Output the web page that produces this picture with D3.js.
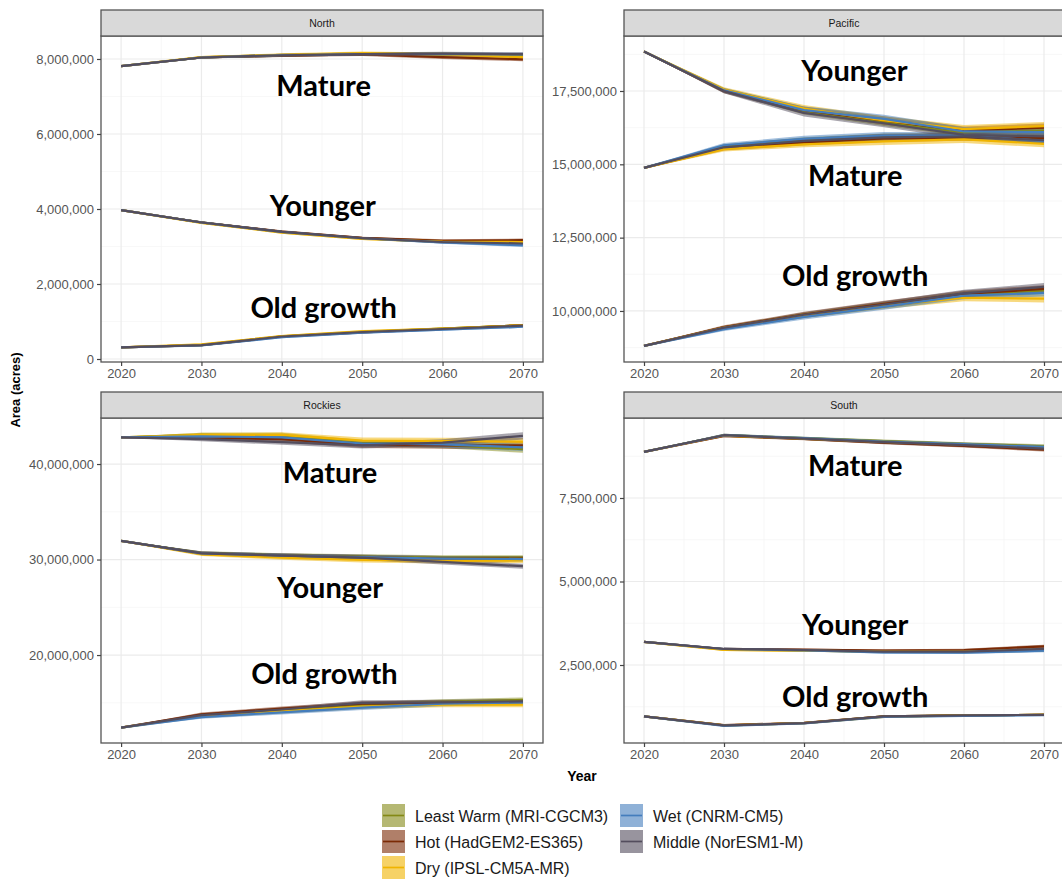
<!DOCTYPE html>
<html><head><meta charset="utf-8">
<script src="https://cdn.jsdelivr.net/npm/d3@7"></script>
<style>body{margin:0;background:#fff}svg{display:block}</style>
</head><body>
<svg id="chart" width="1062" height="879"></svg>
<script>
// ---------------- DATA (values in millions of acres) ----------------
const years = [2020, 2030, 2040, 2050, 2060, 2070];
const models = ["Least Warm (MRI-CGCM3)", "Hot (HadGEM2-ES365)", "Dry (IPSL-CM5A-MR)", "Wet (CNRM-CM5)", "Middle (NorESM1-M)"];
const modelColors = ["#848916", "#7b2a05", "#f0b400", "#447dbc", "#534d5d"];
const regions = ["North", "Pacific", "Rockies", "South"];
const classes = ["Mature", "Younger", "Old growth"];

// rows: Least Warm, Hot, Dry, Wet, Middle
const northMature = [
  [7.81, 8.04, 8.10, 8.13, 8.13, 8.10],
  [7.81, 8.04, 8.09, 8.12, 8.05, 7.99],
  [7.81, 8.05, 8.11, 8.16, 8.12, 8.05],
  [7.81, 8.04, 8.10, 8.13, 8.13, 8.12],
  [7.81, 8.04, 8.10, 8.13, 8.14, 8.13]];
const northYounger = [
  [3.97, 3.64, 3.39, 3.22, 3.13, 3.10],
  [3.97, 3.64, 3.40, 3.23, 3.15, 3.17],
  [3.97, 3.63, 3.37, 3.20, 3.13, 3.12],
  [3.97, 3.64, 3.39, 3.22, 3.11, 3.03],
  [3.97, 3.64, 3.39, 3.22, 3.12, 3.08]];
const northOld = [
  [0.31, 0.37, 0.60, 0.72, 0.81, 0.90],
  [0.31, 0.37, 0.60, 0.71, 0.80, 0.90],
  [0.31, 0.39, 0.61, 0.74, 0.81, 0.90],
  [0.31, 0.36, 0.58, 0.70, 0.78, 0.86],
  [0.31, 0.37, 0.60, 0.72, 0.80, 0.89]];
const northBand = [[0.01, 0.03, 0.04, 0.04, 0.05, 0.05], [0.01, 0.03, 0.03, 0.03, 0.04, 0.04], [0.01, 0.02, 0.03, 0.03, 0.03, 0.03]];

const pacificMature = [
  [14.88, 15.60, 15.82, 15.93, 15.95, 15.85],
  [14.88, 15.55, 15.75, 15.88, 15.92, 15.90],
  [14.88, 15.52, 15.68, 15.78, 15.85, 15.70],
  [14.88, 15.65, 15.87, 15.98, 15.98, 15.80],
  [14.88, 15.58, 15.80, 15.92, 15.95, 15.82]];
const pacificYounger = [
  [18.85, 17.52, 16.82, 16.45, 16.10, 16.15],
  [18.85, 17.50, 16.85, 16.50, 16.15, 16.25],
  [18.85, 17.55, 16.90, 16.50, 16.20, 16.30],
  [18.85, 17.52, 16.85, 16.55, 16.12, 16.10],
  [18.85, 17.50, 16.75, 16.40, 16.00, 15.95]];
const pacificOld = [
  [8.81, 9.42, 9.85, 10.20, 10.55, 10.70],
  [8.81, 9.45, 9.88, 10.24, 10.58, 10.75],
  [8.81, 9.43, 9.85, 10.18, 10.45, 10.42],
  [8.81, 9.38, 9.80, 10.15, 10.52, 10.62],
  [8.81, 9.43, 9.87, 10.22, 10.60, 10.82]];
const pacificBand = [[0.02, 0.08, 0.10, 0.12, 0.12, 0.12], [0.02, 0.08, 0.12, 0.14, 0.14, 0.14], [0.02, 0.06, 0.09, 0.11, 0.12, 0.13]];

const rockiesMature = [
  [42.80, 43.05, 43.00, 42.20, 42.00, 41.55],
  [42.80, 42.80, 42.60, 42.00, 41.95, 41.95],
  [42.80, 43.05, 43.05, 42.45, 42.40, 42.35],
  [42.80, 42.90, 42.80, 42.15, 42.05, 41.75],
  [42.80, 42.60, 42.30, 41.95, 42.25, 42.95]];
const rockiesYounger = [
  [31.95, 30.68, 30.45, 30.30, 30.20, 30.20],
  [31.95, 30.65, 30.40, 30.25, 30.10, 30.10],
  [31.95, 30.55, 30.20, 29.95, 29.85, 29.90],
  [31.95, 30.65, 30.42, 30.25, 30.10, 30.05],
  [31.95, 30.65, 30.40, 30.20, 29.75, 29.30]];
const rockiesOld = [
  [12.40, 13.65, 14.25, 14.80, 15.10, 15.30],
  [12.40, 13.80, 14.40, 14.90, 15.00, 15.10],
  [12.40, 13.60, 14.10, 14.60, 14.80, 14.80],
  [12.40, 13.50, 14.00, 14.50, 14.90, 15.05],
  [12.40, 13.70, 14.30, 15.00, 15.05, 15.15]];
const rockiesBand = [[0.05, 0.22, 0.28, 0.32, 0.34, 0.38], [0.05, 0.18, 0.22, 0.26, 0.26, 0.26], [0.05, 0.18, 0.22, 0.26, 0.26, 0.26]];

const southMature = [
  [8.88, 9.38, 9.29, 9.20, 9.12, 9.05],
  [8.88, 9.36, 9.27, 9.16, 9.06, 8.95],
  [8.88, 9.37, 9.28, 9.18, 9.10, 9.02],
  [8.88, 9.38, 9.29, 9.19, 9.11, 9.03],
  [8.88, 9.38, 9.28, 9.17, 9.08, 8.98]];
const southYounger = [
  [3.19, 2.97, 2.94, 2.90, 2.89, 2.95],
  [3.19, 2.98, 2.96, 2.93, 2.95, 3.06],
  [3.19, 2.95, 2.93, 2.90, 2.90, 2.96],
  [3.19, 2.98, 2.94, 2.88, 2.87, 2.93],
  [3.19, 2.98, 2.95, 2.90, 2.90, 2.98]];
const southOld = [
  [0.96, 0.69, 0.76, 0.96, 0.99, 1.01],
  [0.96, 0.70, 0.77, 0.96, 0.99, 1.01],
  [0.96, 0.69, 0.76, 0.95, 0.99, 1.01],
  [0.96, 0.68, 0.75, 0.95, 0.98, 1.00],
  [0.96, 0.69, 0.76, 0.96, 0.99, 1.01]];
const southBand = [[0.01, 0.04, 0.04, 0.05, 0.05, 0.06], [0.01, 0.03, 0.03, 0.04, 0.04, 0.05], [0.01, 0.02, 0.02, 0.03, 0.03, 0.03]];

// y tick labels (acres)
const northTicks = [0, 2000000, 4000000, 6000000, 8000000];
const pacificTicks = [10000000, 12500000, 15000000, 17500000];
const rockiesTicks = [20000000, 30000000, 40000000];
const southTicks = [2500000, 5000000, 7500000];
const xTicks = [2020, 2030, 2040, 2050, 2060, 2070];

// y axis limits (acres)
const northLimits = [-80000, 8613000];
const pacificLimits = [8260000, 19375000];
const rockiesLimits = [10790000, 44820000];
const southLimits = [165000, 9895000];

// class annotation anchor (year, millions of acres) in class order Mature, Younger, Old growth
const northLabelPos = [[2045.2, 7.33], [2045.1, 4.13], [2045.2, 1.41]];
const pacificLabelPos = [[2046.4, 14.66], [2046.3, 18.22], [2046.4, 11.23]];
const rockiesLabelPos = [[2046.0, 39.27], [2046.0, 27.17], [2045.3, 18.12]];
const southLabelPos = [[2046.4, 8.49], [2046.4, 3.73], [2046.4, 1.60]];

// ---------------- LAYOUT ----------------
const panelData = {
  North:   {series: [northMature, northYounger, northOld], band: northBand, ticks: northTicks, limits: northLimits, labels: northLabelPos},
  Pacific: {series: [pacificMature, pacificYounger, pacificOld], band: pacificBand, ticks: pacificTicks, limits: pacificLimits, labels: pacificLabelPos},
  Rockies: {series: [rockiesMature, rockiesYounger, rockiesOld], band: rockiesBand, ticks: rockiesTicks, limits: rockiesLimits, labels: rockiesLabelPos},
  South:   {series: [southMature, southYounger, southOld], band: southBand, ticks: southTicks, limits: southLimits, labels: southLabelPos}
};
const cols = [[101, 543], [624, 1064]];
const rows = [{strip: 10, top: 36, bottom: 362}, {strip: 392, top: 418, bottom: 743}];
const FONT = "'Liberation Sans', Arial, sans-serif";

const svg = d3.select("#chart");
svg.append("rect").attr("width", 1062).attr("height", 879).attr("fill", "#fff");

regions.forEach((reg, i) => {
  const c = cols[i % 2], r = rows[Math.floor(i / 2)];
  const pd = panelData[reg];
  const x = d3.scaleLinear().domain([2017.5, 2072.5]).range([c[0], c[1]]);
  const y = d3.scaleLinear().domain(pd.limits).range([r.bottom, r.top]);
  const g = svg.append("g");

  const clipId = "clip" + i;
  svg.append("clipPath").attr("id", clipId).append("rect")
    .attr("x", c[0]).attr("y", r.top).attr("width", c[1] - c[0]).attr("height", r.bottom - r.top);

  // grid
  const step = pd.ticks[1] - pd.ticks[0];
  const minorY = d3.range(pd.ticks[0] - step / 2, pd.limits[1], step).filter(v => v > pd.limits[0]);
  const minorX = [2025, 2035, 2045, 2055, 2065];
  const grid = g.append("g");
  grid.selectAll(".mny").data(minorY).join("line")
    .attr("x1", c[0]).attr("x2", c[1]).attr("y1", d => y(d)).attr("y2", d => y(d))
    .attr("stroke", "#f4f4f4").attr("stroke-width", 0.7);
  grid.selectAll(".mnx").data(minorX).join("line")
    .attr("y1", r.top).attr("y2", r.bottom).attr("x1", d => x(d)).attr("x2", d => x(d))
    .attr("stroke", "#f4f4f4").attr("stroke-width", 0.7);
  grid.selectAll(".mjy").data(pd.ticks).join("line")
    .attr("x1", c[0]).attr("x2", c[1]).attr("y1", d => y(d)).attr("y2", d => y(d))
    .attr("stroke", "#ebebeb").attr("stroke-width", 1.2);
  grid.selectAll(".mjx").data(xTicks).join("line")
    .attr("y1", r.top).attr("y2", r.bottom).attr("x1", d => x(d)).attr("x2", d => x(d))
    .attr("stroke", "#ebebeb").attr("stroke-width", 1.2);

  const marks = g.append("g").attr("clip-path", `url(#${clipId})`);
  const area = d3.area().x((d, k) => x(years[k]))
    .y0(d => y((d.v - d.b) * 1e6)).y1(d => y((d.v + d.b) * 1e6));
  const line = d3.line().x((d, k) => x(years[k])).y(d => y(d * 1e6));

  // ribbons
  pd.series.forEach((cls, ci) => {
    cls.forEach((vals, mi) => {
      const pts = vals.map((v, k) => ({v: v, b: pd.band[ci][k]}));
      marks.append("path").attr("d", area(pts))
        .attr("fill", modelColors[mi]).attr("fill-opacity", 0.5).attr("stroke", "none");
    });
  });
  // lines
  pd.series.forEach((cls) => {
    cls.forEach((vals, mi) => {
      marks.append("path").attr("d", line(vals))
        .attr("fill", "none").attr("stroke", modelColors[mi]).attr("stroke-width", 2.2)
        .attr("stroke-linejoin", "round");
    });
  });

  // annotations
  classes.forEach((cl, ci) => {
    g.append("text").attr("x", x(pd.labels[ci][0])).attr("y", y(pd.labels[ci][1] * 1e6))
      .attr("text-anchor", "middle").attr("dominant-baseline", "central")
      .attr("font-family", "Lato, 'Open Sans', sans-serif").attr("font-weight", 700)
      .attr("font-size", 29).attr("fill", "#000").text(cl);
  });

  // border
  g.append("rect").attr("x", c[0]).attr("y", r.top).attr("width", c[1] - c[0]).attr("height", r.bottom - r.top)
    .attr("fill", "none").attr("stroke", "#555").attr("stroke-width", 1.3);
  // strip
  g.append("rect").attr("x", c[0]).attr("y", r.strip).attr("width", c[1] - c[0]).attr("height", r.top - r.strip)
    .attr("fill", "#d9d9d9").attr("stroke", "#555").attr("stroke-width", 1.3);
  g.append("text").attr("x", (c[0] + c[1]) / 2).attr("y", (r.strip + r.top) / 2)
    .attr("text-anchor", "middle").attr("dominant-baseline", "central")
    .attr("font-family", FONT).attr("font-size", 10.5).attr("fill", "#1a1a1a").text(reg);

  // axes
  const ya = g.append("g").attr("transform", `translate(${c[0]},0)`)
    .call(d3.axisLeft(y).tickValues(pd.ticks).tickSize(4).tickPadding(3).tickFormat(d3.format(",")));
  const xa = g.append("g").attr("transform", `translate(0,${r.bottom})`)
    .call(d3.axisBottom(x).tickValues(xTicks).tickSize(4).tickPadding(3).tickFormat(d3.format("d")));
  [ya, xa].forEach(a => {
    a.select(".domain").remove();
    a.selectAll(".tick line").attr("stroke", "#444").attr("stroke-width", 1.2);
    a.selectAll(".tick text").attr("fill", "#555").attr("font-size", 13).attr("font-family", FONT);
  });
});

// axis titles
svg.append("text").attr("transform", "translate(20,390) rotate(-90)")
  .attr("text-anchor", "middle").attr("font-family", FONT).attr("font-weight", 700)
  .attr("font-size", 13).attr("fill", "#000").text("Area (acres)");
svg.append("text").attr("x", 582).attr("y", 781)
  .attr("text-anchor", "middle").attr("font-family", FONT).attr("font-weight", 700)
  .attr("font-size", 14).attr("fill", "#000").text("Year");

// legend
const legendCols = [[0, 1, 2], [3, 4]];
const legendX = [382, 620];
const legendY = [804, 830, 856];
legendCols.forEach((col, ci) => {
  col.forEach((mi, ri) => {
    const lg = svg.append("g").attr("transform", `translate(${legendX[ci]},${legendY[ri]})`);
    lg.append("rect").attr("width", 23).attr("height", 23)
      .attr("fill", modelColors[mi]).attr("fill-opacity", 0.6);
    lg.append("line").attr("x1", 1).attr("x2", 22).attr("y1", 11.5).attr("y2", 11.5)
      .attr("stroke", modelColors[mi]).attr("stroke-width", 1.7);
    lg.append("text").attr("x", 33).attr("y", 12).attr("dominant-baseline", "central")
      .attr("font-family", FONT).attr("font-size", 16).attr("fill", "#1a1a1a").text(models[mi]);
  });
});
</script>
</body></html>
